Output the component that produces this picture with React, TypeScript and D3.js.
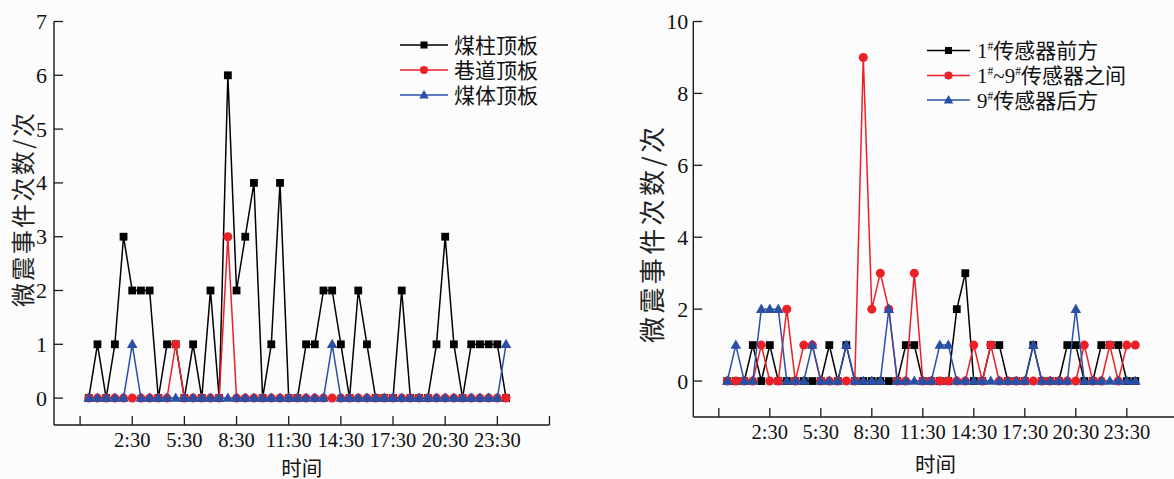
import React from "react";
import * as d3 from "d3";

// Half-hourly sampling slots over one day
const TIME_SLOTS = [
  "0:00", "0:30", "1:00", "1:30", "2:00", "2:30", "3:00", "3:30", "4:00", "4:30",
  "5:00", "5:30", "6:00", "6:30", "7:00", "7:30", "8:00", "8:30", "9:00", "9:30",
  "10:00", "10:30", "11:00", "11:30", "12:00", "12:30", "13:00", "13:30", "14:00", "14:30",
  "15:00", "15:30", "16:00", "16:30", "17:00", "17:30", "18:00", "18:30", "19:00", "19:30",
  "20:00", "20:30", "21:00", "21:30", "22:00", "22:30", "23:00", "23:30", "24:00",
];

// Time axis ticks (outer ticks carry no label)
const X_TICK_TIMES = ["-0:30", "2:30", "5:30", "8:30", "11:30", "14:30", "17:30", "20:30", "23:30", "26:30"];
const X_TICK_LABELS = ["", "2:30", "5:30", "8:30", "11:30", "14:30", "17:30", "20:30", "23:30", ""];

// Left panel: events by roof position
const ROOF_PILLAR = [
  0, 1, 0, 1, 3, 2, 2, 2, 0, 1, 1, 0, 1, 0, 2, 0, 6, 2, 3, 4,
  0, 1, 4, 0, 0, 1, 1, 2, 2, 1, 0, 2, 1, 0, 0, 0, 2, 0, 0, 0,
  1, 3, 1, 0, 1, 1, 1, 1, 0,
];
const ROOF_ROADWAY = [
  0, 0, 0, 0, 0, 0, 0, 0, 0, 0, 1, 0, 0, 0, 0, 0, 3, 0, 0, 0,
  0, 0, 0, 0, 0, 0, 0, 0, 0, 0, 0, 0, 0, 0, 0, 0, 0, 0, 0, 0,
  0, 0, 0, 0, 0, 0, 0, 0, 0,
];
const ROOF_COAL = [
  0, 0, 0, 0, 0, 1, 0, 0, 0, 0, 0, 0, 0, 0, 0, 0, 0, 0, 0, 0,
  0, 0, 0, 0, 0, 0, 0, 0, 1, 0, 0, 0, 0, 0, 0, 0, 0, 0, 0, 0,
  0, 0, 0, 0, 0, 0, 0, 0, 1,
];

// Right panel: events relative to the sensor array
const AHEAD_OF_1 = [
  0, 0, 0, 1, 0, 1, 0, 0, 0, 0, 0, 0, 1, 0, 1, 0, 0, 0, 0, 0,
  0, 1, 1, 0, 0, 0, 0, 2, 3, 0, 0, 1, 1, 0, 0, 0, 1, 0, 0, 0,
  1, 1, 0, 0, 1, 1, 1, 0, 0,
];
const BETWEEN_1_9 = [
  0, 0, 0, 0, 1, 0, 0, 2, 0, 1, 1, 0, 0, 0, 0, 0, 9, 2, 3, 2,
  0, 0, 3, 0, 0, 0, 0, 0, 0, 1, 0, 1, 0, 0, 0, 0, 0, 0, 0, 0,
  0, 0, 1, 0, 0, 1, 0, 1, 1,
];
const BEHIND_9 = [
  0, 1, 0, 0, 2, 2, 2, 0, 0, 0, 1, 0, 0, 0, 1, 0, 0, 0, 0, 2,
  0, 0, 0, 0, 0, 1, 1, 0, 0, 0, 0, 0, 0, 0, 0, 0, 1, 0, 0, 0,
  0, 2, 0, 0, 0, 0, 0, 0, 0,
];

const LEFT_Y_TICKS = [0, 1, 2, 3, 4, 5, 6, 7];
const RIGHT_Y_TICKS = [0, 2, 4, 6, 8, 10];

const Y_TITLE = "微震事件次数/次";
const X_TITLE = "时间";

const BLACK = "#000000";
const RED = "#ec2027";
const BLUE = "#2a50a6";

const SERIF = "'Liberation Serif', 'Times New Roman', 'Noto Sans CJK SC', serif";
const CJK = "'Noto Sans CJK SC', 'Noto Sans CJK JP', sans-serif";

type Marker = "square" | "circle" | "triangle";
type LabelPart = { t: string; sup?: boolean };
type Series = { label: LabelPart[]; values: number[]; color: string; marker: Marker };

const toHours = (s: string) => {
  const neg = s.startsWith("-");
  const [h, m] = s.replace("-", "").split(":").map(Number);
  const v = h + m / 60;
  return neg ? -v : v;
};

function MarkerShape({ kind, x, y, color, scale = 1 }: { kind: Marker; x: number; y: number; color: string; scale?: number }) {
  if (kind === "square") {
    const s = 7.8 * scale;
    return <rect x={x - s / 2} y={y - s / 2} width={s} height={s} fill={color} />;
  }
  if (kind === "circle") {
    return <circle cx={x} cy={y} r={4.5 * scale} fill={color} />;
  }
  const w = 10.6 * scale;
  const h = 9.4 * scale;
  const top = y - h * 0.6;
  const path = d3.path();
  path.moveTo(x, top);
  path.lineTo(x + w / 2, top + h);
  path.lineTo(x - w / 2, top + h);
  path.closePath();
  return <path d={path.toString()} fill={color} />;
}

type PanelProps = {
  xRange: [number, number];
  yTop: number;
  yBottom: number;
  yDomain: [number, number];
  yTicks: number[];
  series: Series[];
  legend: { x0: number; x1: number; textX: number; rows: number[]; fontSize: number };
  yTitle: { x: number; y: number; fontSize: number; length: number };
  xTitleOffset: number;
  yLabelGap: number;
};

function Panel(p: PanelProps) {
  const x = d3.scaleLinear().domain([toHours("-2:00"), toHours("26:30")]).range(p.xRange);
  const y = d3.scaleLinear().domain(p.yDomain).range([p.yBottom, p.yTop]);
  const slots = TIME_SLOTS.map(toHours);
  const tickLen = 9;
  const axisY = p.yBottom;
  const axisX = p.xRange[0];
  const line = d3
    .line<number>()
    .x((_, i) => x(slots[i]))
    .y((d) => y(d));

  return (
    <g>
      {/* series: line then symbols, drawn in legend order */}
      {p.series.map((s, si) => (
        <g key={si}>
          <path d={line(s.values) ?? ""} fill="none" stroke={s.color} strokeWidth={1.5} strokeLinejoin="round" />
          {s.values.map((v, i) => (
            <MarkerShape key={i} kind={s.marker} x={x(slots[i])} y={y(v)} color={s.color} />
          ))}
        </g>
      ))}

      {/* axes */}
      <line x1={axisX} x2={axisX} y1={y(p.yDomain[1])} y2={axisY} stroke="#1a1a1a" strokeWidth={1.4} />
      <line x1={axisX} x2={p.xRange[1]} y1={axisY} y2={axisY} stroke="#1a1a1a" strokeWidth={1.4} />
      {p.yTicks.map((t) => (
        <g key={t}>
          <line x1={axisX} x2={axisX + tickLen} y1={y(t)} y2={y(t)} stroke="#1a1a1a" strokeWidth={1.3} />
          <text
            x={axisX - p.yLabelGap}
            y={y(t)}
            textAnchor="end"
            dominantBaseline="central"
            fontFamily={SERIF}
            fontSize={22}
            fill="#111"
          >
            {t}
          </text>
        </g>
      ))}
      {X_TICK_TIMES.map((t, i) => {
        const tx = x(toHours(t));
        return (
          <g key={t}>
            <line x1={tx} x2={tx} y1={axisY} y2={axisY - tickLen} stroke="#1a1a1a" strokeWidth={1.3} />
            {X_TICK_LABELS[i] && (
              <text x={tx} y={axisY + 15} textAnchor="middle" dominantBaseline="central" fontFamily={SERIF} fontSize={20.5} fill="#111">
                {X_TICK_LABELS[i]}
              </text>
            )}
          </g>
        );
      })}

      {/* axis titles */}
      <text
        x={(p.xRange[0] + p.xRange[1]) / 2}
        y={axisY + p.xTitleOffset}
        textAnchor="middle"
        dominantBaseline="central"
        fontFamily={CJK}
        fontSize={20.5}
        fill="#111"
      >
        {X_TITLE}
      </text>
      <text
        transform={`translate(${p.yTitle.x},${p.yTitle.y}) rotate(-90)`}
        textAnchor="middle"
        dominantBaseline="central"
        fontFamily={CJK}
        fontSize={p.yTitle.fontSize}
        textLength={p.yTitle.length}
        lengthAdjust="spacing"
        fill="#222"
      >
        {Y_TITLE}
      </text>

      {/* legend */}
      {p.series.map((s, si) => {
        const ry = p.legend.rows[si];
        return (
          <g key={si}>
            <line x1={p.legend.x0} x2={p.legend.x1} y1={ry} y2={ry} stroke={s.color} strokeWidth={1.5} />
            <MarkerShape kind={s.marker} x={(p.legend.x0 + p.legend.x1) / 2} y={ry} color={s.color} scale={0.9} />
            <text x={p.legend.textX} y={ry + p.legend.fontSize * 0.37} fontFamily={SERIF} fontSize={p.legend.fontSize} fill="#111">
              {s.label.map((part, k) =>
                part.sup ? (
                  <tspan key={k} fontSize={p.legend.fontSize * 0.55} dy={-p.legend.fontSize * 0.38}>
                    {part.t}
                  </tspan>
                ) : (
                  <tspan key={k} dy={k > 0 && s.label[k - 1].sup ? p.legend.fontSize * 0.38 : 0}>
                    {part.t}
                  </tspan>
                )
              )}
            </text>
          </g>
        );
      })}
    </g>
  );
}

export default function App() {
  const leftSeries: Series[] = [
    { label: [{ t: "煤柱顶板" }], values: ROOF_PILLAR, color: BLACK, marker: "square" },
    { label: [{ t: "巷道顶板" }], values: ROOF_ROADWAY, color: RED, marker: "circle" },
    { label: [{ t: "煤体顶板" }], values: ROOF_COAL, color: BLUE, marker: "triangle" },
  ];
  const rightSeries: Series[] = [
    { label: [{ t: "1" }, { t: "#", sup: true }, { t: "传感器前方" }], values: AHEAD_OF_1, color: BLACK, marker: "square" },
    {
      label: [{ t: "1" }, { t: "#", sup: true }, { t: "~9" }, { t: "#", sup: true }, { t: "传感器之间" }],
      values: BETWEEN_1_9,
      color: RED,
      marker: "circle",
    },
    { label: [{ t: "9" }, { t: "#", sup: true }, { t: "传感器后方" }], values: BEHIND_9, color: BLUE, marker: "triangle" },
  ];

  return (
    <svg
      width={1174}
      height={479}
      viewBox="0 0 1174 479"
      style={{ position: "absolute", left: 0, top: 0, background: "#fcfcfc" }}
    >
      <Panel
        xRange={[54, 549.5]}
        yTop={21.5}
        yBottom={425}
        yDomain={[-0.5, 7]}
        yTicks={LEFT_Y_TICKS}
        series={leftSeries}
        legend={{ x0: 400, x1: 448, textX: 454, rows: [45, 70, 95], fontSize: 21 }}
        yTitle={{ x: 21, y: 210, fontSize: 24, length: 194 }}
        xTitleOffset={41.5}
        yLabelGap={7}
      />
      <Panel
        xRange={[693.3, 1177.8]}
        yTop={21.5}
        yBottom={417}
        yDomain={[-1, 10]}
        yTicks={RIGHT_Y_TICKS}
        series={rightSeries}
        legend={{ x0: 927, x1: 970, textX: 977, rows: [50.5, 75.5, 100], fontSize: 21 }}
        yTitle={{ x: 650, y: 235, fontSize: 26, length: 216 }}
        xTitleOffset={45.5}
        yLabelGap={5}
      />
    </svg>
  );
}
